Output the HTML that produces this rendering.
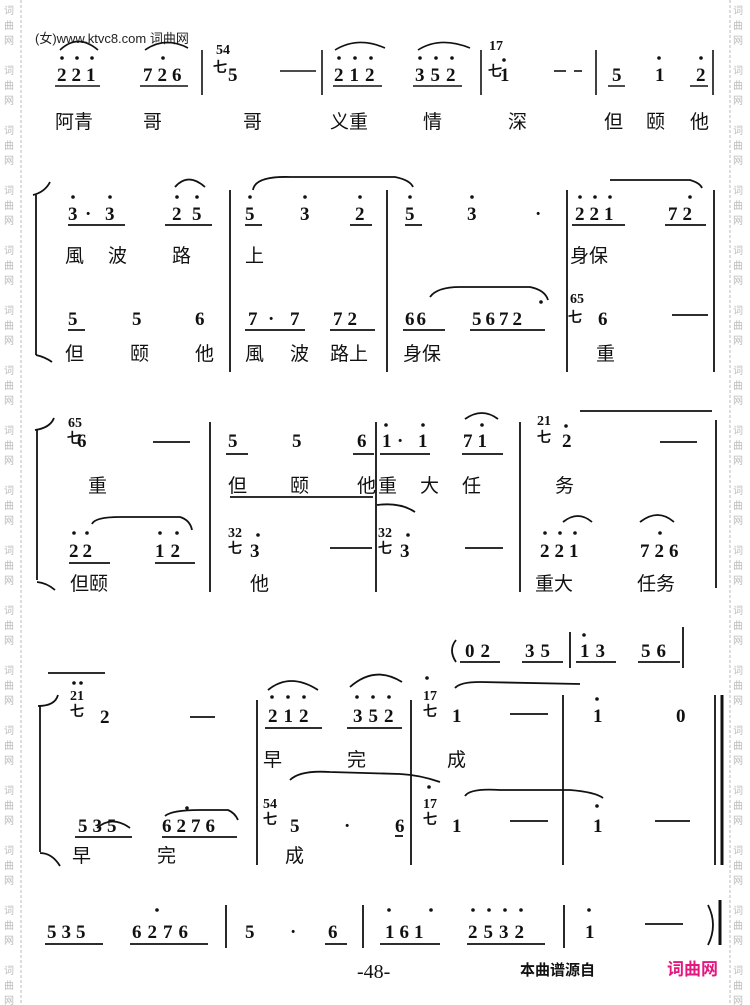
<!DOCTYPE html>
<html><head><meta charset="utf-8"><style>
body{margin:0;background:#fff;width:750px;height:1005px;overflow:hidden}
svg{display:block}
.n{font-family:"Liberation Serif",serif;font-weight:bold;font-size:19px;fill:#111}
.s{font-family:"Liberation Serif",serif;font-weight:bold;font-size:14px;fill:#111}
.l{font-family:"Liberation Sans","Noto Sans CJK SC",sans-serif;font-size:19px;fill:#111}
.w{font-family:"Noto Sans CJK SC",sans-serif;font-size:10px;fill:#bbb}
</style></head><body>
<svg width="750" height="1005" viewBox="0 0 750 1005" xmlns="http://www.w3.org/2000/svg">
<g stroke="#bbb" stroke-dasharray="3,2" stroke-width="1"><line x1="21" y1="0" x2="21" y2="1005"/><line x1="730" y1="0" x2="730" y2="1005"/></g>
<g class="w">
<text x="4" y="14">词</text><text x="4" y="29">曲</text><text x="4" y="44">网</text>
<text x="4" y="74">词</text><text x="4" y="89">曲</text><text x="4" y="104">网</text>
<text x="4" y="134">词</text><text x="4" y="149">曲</text><text x="4" y="164">网</text>
<text x="4" y="194">词</text><text x="4" y="209">曲</text><text x="4" y="224">网</text>
<text x="4" y="254">词</text><text x="4" y="269">曲</text><text x="4" y="284">网</text>
<text x="4" y="314">词</text><text x="4" y="329">曲</text><text x="4" y="344">网</text>
<text x="4" y="374">词</text><text x="4" y="389">曲</text><text x="4" y="404">网</text>
<text x="4" y="434">词</text><text x="4" y="449">曲</text><text x="4" y="464">网</text>
<text x="4" y="494">词</text><text x="4" y="509">曲</text><text x="4" y="524">网</text>
<text x="4" y="554">词</text><text x="4" y="569">曲</text><text x="4" y="584">网</text>
<text x="4" y="614">词</text><text x="4" y="629">曲</text><text x="4" y="644">网</text>
<text x="4" y="674">词</text><text x="4" y="689">曲</text><text x="4" y="704">网</text>
<text x="4" y="734">词</text><text x="4" y="749">曲</text><text x="4" y="764">网</text>
<text x="4" y="794">词</text><text x="4" y="809">曲</text><text x="4" y="824">网</text>
<text x="4" y="854">词</text><text x="4" y="869">曲</text><text x="4" y="884">网</text>
<text x="4" y="914">词</text><text x="4" y="929">曲</text><text x="4" y="944">网</text>
<text x="4" y="974">词</text><text x="4" y="989">曲</text><text x="4" y="1004">网</text>
</g>
<g class="w" transform="translate(733,0)">
<text x="0" y="14">词</text><text x="0" y="29">曲</text><text x="0" y="44">网</text>
<text x="0" y="74">词</text><text x="0" y="89">曲</text><text x="0" y="104">网</text>
<text x="0" y="134">词</text><text x="0" y="149">曲</text><text x="0" y="164">网</text>
<text x="0" y="194">词</text><text x="0" y="209">曲</text><text x="0" y="224">网</text>
<text x="0" y="254">词</text><text x="0" y="269">曲</text><text x="0" y="284">网</text>
<text x="0" y="314">词</text><text x="0" y="329">曲</text><text x="0" y="344">网</text>
<text x="0" y="374">词</text><text x="0" y="389">曲</text><text x="0" y="404">网</text>
<text x="0" y="434">词</text><text x="0" y="449">曲</text><text x="0" y="464">网</text>
<text x="0" y="494">词</text><text x="0" y="509">曲</text><text x="0" y="524">网</text>
<text x="0" y="554">词</text><text x="0" y="569">曲</text><text x="0" y="584">网</text>
<text x="0" y="614">词</text><text x="0" y="629">曲</text><text x="0" y="644">网</text>
<text x="0" y="674">词</text><text x="0" y="689">曲</text><text x="0" y="704">网</text>
<text x="0" y="734">词</text><text x="0" y="749">曲</text><text x="0" y="764">网</text>
<text x="0" y="794">词</text><text x="0" y="809">曲</text><text x="0" y="824">网</text>
<text x="0" y="854">词</text><text x="0" y="869">曲</text><text x="0" y="884">网</text>
<text x="0" y="914">词</text><text x="0" y="929">曲</text><text x="0" y="944">网</text>
<text x="0" y="974">词</text><text x="0" y="989">曲</text><text x="0" y="1004">网</text>
</g>

<!-- Row 1 -->
<text x="35" y="43" style="font-family:'Liberation Sans','Noto Sans CJK SC',sans-serif;font-size:13px;fill:#222">(女)www.ktvc8.com 词曲网</text>
<g class="n">
<text x="57" y="81" letter-spacing="5">221</text><text x="143" y="81" letter-spacing="5">726</text>
<text x="228" y="81">5</text>
<text x="334" y="81" letter-spacing="6">212</text><text x="415" y="81" letter-spacing="6">352</text>
<text x="500" y="81">1</text>
<text x="612" y="81">5</text><text x="655" y="81">1</text><text x="696" y="81">2</text>
</g>
<g class="s"><text x="216" y="54">54</text><text x="489" y="50">17</text></g>
<text x="213" y="72" class="s">七</text><text x="488" y="76" class="s">七</text>
<g fill="#111">
<circle cx="62" cy="58" r="1.8"/><circle cx="77" cy="58" r="1.8"/><circle cx="92" cy="58" r="1.8"/><circle cx="163" cy="58" r="1.8"/>
<circle cx="339" cy="58" r="1.8"/><circle cx="355" cy="58" r="1.8"/><circle cx="371" cy="58" r="1.8"/>
<circle cx="420" cy="58" r="1.8"/><circle cx="436" cy="58" r="1.8"/><circle cx="452" cy="58" r="1.8"/>
<circle cx="504" cy="60" r="1.8"/><circle cx="659" cy="58" r="1.8"/><circle cx="701" cy="58" r="1.8"/>
</g>
<g stroke="#111" stroke-width="1.6" fill="none">
<line x1="280" y1="71" x2="316" y2="71"/><line x1="554" y1="71" x2="566" y2="71"/><line x1="574" y1="71" x2="582" y2="71"/>
<line x1="55" y1="86" x2="100" y2="86"/><line x1="140" y1="86" x2="188" y2="86"/>
<line x1="333" y1="86" x2="382" y2="86"/><line x1="413" y1="86" x2="462" y2="86"/>
<line x1="608" y1="86" x2="625" y2="86"/><line x1="690" y1="86" x2="708" y2="86"/>
<line x1="202" y1="50" x2="202" y2="95"/><line x1="322" y1="50" x2="322" y2="95"/><line x1="481" y1="50" x2="481" y2="95"/><line x1="596" y1="50" x2="596" y2="95"/><line x1="713" y1="50" x2="713" y2="95"/>
<path d="M60 50 Q78 33 98 50"/><path d="M145 50 Q165 36 188 48"/><path d="M335 50 Q358 36 385 48"/><path d="M418 50 Q440 36 470 48"/>
</g>
<g class="l"><text x="55" y="128">阿青</text><text x="143" y="128">哥</text><text x="243" y="128">哥</text><text x="330" y="128">义重</text><text x="423" y="128">情</text><text x="508" y="128">深</text><text x="604" y="128">但</text><text x="646" y="128">颐</text><text x="690" y="128">他</text></g>

<!-- Row 2 -->
<g stroke="#111" stroke-width="1.8" fill="none">
<line x1="36" y1="195" x2="36" y2="355"/><path d="M33 195 Q45 192 50 182"/><path d="M36 355 Q45 357 52 362"/>
<line x1="230" y1="190" x2="230" y2="372"/><line x1="387" y1="190" x2="387" y2="372"/><line x1="567" y1="190" x2="567" y2="372"/><line x1="714" y1="190" x2="714" y2="372"/>
<line x1="68" y1="225" x2="125" y2="225"/><line x1="165" y1="225" x2="212" y2="225"/><line x1="245" y1="225" x2="262" y2="225"/><line x1="350" y1="225" x2="372" y2="225"/><line x1="405" y1="225" x2="422" y2="225"/>
<line x1="572" y1="225" x2="625" y2="225"/><line x1="665" y1="225" x2="706" y2="225"/>
<line x1="68" y1="330" x2="85" y2="330"/><line x1="245" y1="330" x2="305" y2="330"/><line x1="330" y1="330" x2="375" y2="330"/><line x1="403" y1="330" x2="445" y2="330"/><line x1="470" y1="330" x2="545" y2="330"/>
<line x1="672" y1="315" x2="708" y2="315"/>
<path d="M175 187 Q188 172 205 187"/><path d="M253 190 Q255 176 290 177 L395 177 Q410 180 413 187"/><path d="M610 180 L690 180 Q700 183 702 188"/><path d="M430 297 Q437 287 460 287 L530 287 Q545 290 548 300"/>
</g>
<g fill="#111">
<circle cx="73" cy="197" r="1.8"/><circle cx="110" cy="197" r="1.8"/><circle cx="177" cy="197" r="1.8"/><circle cx="197" cy="197" r="1.8"/>
<circle cx="250" cy="197" r="1.8"/><circle cx="305" cy="197" r="1.8"/><circle cx="360" cy="197" r="1.8"/><circle cx="410" cy="197" r="1.8"/><circle cx="472" cy="197" r="1.8"/>
<circle cx="580" cy="197" r="1.8"/><circle cx="595" cy="197" r="1.8"/><circle cx="610" cy="197" r="1.8"/><circle cx="690" cy="197" r="1.8"/>
<circle cx="541" cy="302" r="1.8"/>
</g>
<g class="n">
<text x="68" y="220">3</text><text x="85" y="220">·</text><text x="105" y="220">3</text><text x="172" y="220">2</text><text x="192" y="220">5</text>
<text x="245" y="220">5</text><text x="300" y="220">3</text><text x="355" y="220">2</text>
<text x="405" y="220">5</text><text x="467" y="220">3</text><text x="535" y="220">·</text>
<text x="575" y="220" letter-spacing="5">221</text><text x="668" y="220" letter-spacing="5">72</text>
<text x="68" y="325">5</text><text x="132" y="325">5</text><text x="195" y="325">6</text>
<text x="248" y="325">7</text><text x="268" y="325">·</text><text x="290" y="325">7</text><text x="333" y="325" letter-spacing="5">72</text>
<text x="405" y="325" letter-spacing="2">66</text><text x="472" y="325" letter-spacing="4">5672</text>
<text x="598" y="325">6</text>
</g>
<text x="570" y="303" class="s">65</text><text x="568" y="322" class="s">七</text>
<g class="l"><text x="65" y="262">風</text><text x="108" y="262">波</text><text x="172" y="262">路</text><text x="245" y="262">上</text><text x="570" y="262">身保</text>
<text x="65" y="360">但</text><text x="130" y="360">颐</text><text x="195" y="360">他</text><text x="245" y="360">風</text><text x="290" y="360">波</text><text x="330" y="360">路上</text><text x="403" y="360">身保</text><text x="596" y="360">重</text></g>

<!-- Row 3 -->
<g stroke="#111" stroke-width="1.8" fill="none">
<line x1="37" y1="430" x2="37" y2="580"/><path d="M35 430 Q50 428 54 418"/><path d="M37 582 Q47 583 55 590"/>
<line x1="210" y1="422" x2="210" y2="592"/><line x1="376" y1="422" x2="376" y2="592"/><line x1="520" y1="422" x2="520" y2="592"/><line x1="716" y1="420" x2="716" y2="588"/>
<line x1="153" y1="442" x2="190" y2="442"/><line x1="660" y1="442" x2="697" y2="442"/>
<line x1="226" y1="454" x2="248" y2="454"/><line x1="353" y1="454" x2="374" y2="454"/><line x1="380" y1="454" x2="430" y2="454"/><line x1="462" y1="454" x2="503" y2="454"/>
<line x1="69" y1="563" x2="110" y2="563"/><line x1="155" y1="563" x2="195" y2="563"/><line x1="330" y1="548" x2="372" y2="548"/><line x1="465" y1="548" x2="503" y2="548"/>
<line x1="230" y1="497" x2="373" y2="497"/>
<line x1="580" y1="411" x2="712" y2="411"/>
<path d="M465 419 Q482 407 498 419"/><path d="M92 524 Q95 517 120 517 L180 517 Q190 520 192 530"/><path d="M377 505 Q400 502 415 512"/><path d="M563 522 Q578 510 592 522"/><path d="M640 522 Q658 508 674 522"/>
</g>
<g fill="#111">
<circle cx="386" cy="425" r="1.8"/><circle cx="423" cy="425" r="1.8"/><circle cx="482" cy="425" r="1.8"/><circle cx="566" cy="426" r="1.8"/>
<circle cx="74" cy="533" r="1.8"/><circle cx="87" cy="533" r="1.8"/><circle cx="160" cy="533" r="1.8"/><circle cx="177" cy="533" r="1.8"/>
<circle cx="545" cy="533" r="1.8"/><circle cx="560" cy="533" r="1.8"/><circle cx="575" cy="533" r="1.8"/><circle cx="660" cy="533" r="1.8"/>
<circle cx="258" cy="535" r="1.8"/><circle cx="408" cy="535" r="1.8"/>
</g>
<g class="n">
<text x="77" y="447">6</text>
<text x="228" y="447">5</text><text x="292" y="447">5</text><text x="357" y="447">6</text>
<text x="382" y="447">1</text><text x="397" y="447">·</text><text x="418" y="447">1</text><text x="463" y="447" letter-spacing="5">71</text>
<text x="562" y="447">2</text>
<text x="69" y="557" letter-spacing="4">22</text><text x="155" y="557" letter-spacing="6">12</text>
<text x="250" y="557">3</text><text x="400" y="557">3</text>
<text x="540" y="557" letter-spacing="5">221</text><text x="640" y="557" letter-spacing="5">726</text>
</g>
<g class="s"><text x="68" y="427">65</text><text x="67" y="443">七</text><text x="537" y="425">21</text><text x="537" y="442">七</text>
<text x="228" y="537">32</text><text x="228" y="553">七</text><text x="378" y="537">32</text><text x="378" y="553">七</text></g>
<g class="l"><text x="88" y="492">重</text><text x="228" y="492">但</text><text x="290" y="492">颐</text><text x="357" y="492">他</text><text x="378" y="492">重</text><text x="420" y="492">大</text><text x="462" y="492">任</text><text x="555" y="492">务</text>
<text x="70" y="590">但颐</text><text x="250" y="590">他</text><text x="535" y="590">重大</text><text x="637" y="590">任务</text></g>

<!-- Row 4 -->
<g stroke="#111" stroke-width="1.8" fill="none">
<path d="M456 640 Q448 650 456 662"/>
<line x1="570" y1="632" x2="570" y2="668"/><line x1="683" y1="627" x2="683" y2="668"/>
<line x1="460" y1="662" x2="500" y2="662"/><line x1="522" y1="662" x2="563" y2="662"/><line x1="576" y1="662" x2="616" y2="662"/><line x1="638" y1="662" x2="680" y2="662"/>
<line x1="40" y1="706" x2="40" y2="852"/><path d="M38 706 Q55 706 58 695"/><path d="M40 853 Q52 853 60 866"/>
<line x1="257" y1="700" x2="257" y2="865"/><line x1="411" y1="700" x2="411" y2="865"/><line x1="563" y1="695" x2="563" y2="865"/><line x1="715" y1="695" x2="715" y2="865"/><line x1="722" y1="695" x2="722" y2="865" stroke-width="3"/>
<line x1="48" y1="673" x2="105" y2="673"/>
<line x1="190" y1="717" x2="215" y2="717"/><line x1="510" y1="714" x2="548" y2="714"/>
<line x1="265" y1="728" x2="322" y2="728"/><line x1="347" y1="728" x2="402" y2="728"/>
<line x1="510" y1="821" x2="548" y2="821"/><line x1="655" y1="821" x2="690" y2="821"/><line x1="395" y1="836" x2="403" y2="836"/>
<line x1="75" y1="837" x2="132" y2="837"/><line x1="162" y1="837" x2="237" y2="837"/>
<path d="M268 690 Q290 672 318 690"/><path d="M350 687 Q375 665 402 682"/><path d="M455 688 Q460 682 480 682 L580 684"/><path d="M290 780 Q300 770 330 772 L400 774 Q420 775 440 782"/><path d="M465 796 Q470 788 500 790 L570 790 Q595 792 603 798"/><path d="M97 828 Q112 815 130 828"/><path d="M165 816 Q172 810 200 810 L228 810 Q235 813 238 820"/>
</g>
<g fill="#111">
<circle cx="584" cy="635" r="1.8"/>
<circle cx="74" cy="683" r="1.8"/><circle cx="81" cy="683" r="1.8"/>
<circle cx="272" cy="697" r="1.8"/><circle cx="288" cy="697" r="1.8"/><circle cx="304" cy="697" r="1.8"/>
<circle cx="357" cy="697" r="1.8"/><circle cx="373" cy="697" r="1.8"/><circle cx="389" cy="697" r="1.8"/>
<circle cx="427" cy="678" r="1.8"/><circle cx="597" cy="699" r="1.8"/>
<circle cx="429" cy="787" r="1.8"/><circle cx="597" cy="806" r="1.8"/><circle cx="187" cy="808" r="1.8"/>
</g>
<g class="n" >
<text x="465" y="657" letter-spacing="6">02</text><text x="525" y="657" letter-spacing="6">35</text><text x="580" y="657" letter-spacing="6">13</text><text x="641" y="657" letter-spacing="6">56</text>
<text x="100" y="723">2</text>
<text x="268" y="722" letter-spacing="6">212</text><text x="353" y="722" letter-spacing="6">352</text>
<text x="452" y="722">1</text><text x="593" y="722">1</text><text x="676" y="722">0</text>
<text x="78" y="832" letter-spacing="5">535</text><text x="162" y="832" letter-spacing="5">6276</text>
<text x="290" y="832">5</text><text x="344" y="832">·</text><text x="395" y="832">6</text>
<text x="452" y="832">1</text><text x="593" y="832">1</text>
</g>
<g class="s"><text x="70" y="700">21</text><text x="70" y="716">七</text><text x="423" y="700">17</text><text x="423" y="716">七</text>
<text x="263" y="808">54</text><text x="263" y="824">七</text><text x="423" y="808">17</text><text x="423" y="824">七</text></g>
<g class="l"><text x="263" y="766">早</text><text x="347" y="766">完</text><text x="447" y="766">成</text>
<text x="72" y="862">早</text><text x="157" y="862">完</text><text x="285" y="862">成</text></g>

<!-- Row 5 -->
<g fill="#111">
<circle cx="157" cy="910" r="1.8"/><circle cx="389" cy="910" r="1.8"/><circle cx="431" cy="910" r="1.8"/>
<circle cx="473" cy="910" r="1.8"/><circle cx="489" cy="910" r="1.8"/><circle cx="505" cy="910" r="1.8"/><circle cx="521" cy="910" r="1.8"/>
<circle cx="589" cy="910" r="1.8"/>
</g>
<g class="n"><text x="47" y="938" letter-spacing="5">535</text><text x="132" y="938" letter-spacing="6">6276</text>
<text x="245" y="938">5</text><text x="290" y="938">·</text><text x="328" y="938">6</text>
<text x="385" y="938" letter-spacing="5">161</text><text x="468" y="938" letter-spacing="6">2532</text>
<text x="585" y="938">1</text></g>
<g stroke="#111" stroke-width="1.8" fill="none">
<line x1="226" y1="905" x2="226" y2="948"/><line x1="363" y1="905" x2="363" y2="948"/><line x1="564" y1="905" x2="564" y2="948"/><line x1="720" y1="900" x2="720" y2="945" stroke-width="3"/>
<path d="M708 905 Q718 925 708 945"/>
<line x1="645" y1="924" x2="683" y2="924"/>
<line x1="45" y1="944" x2="103" y2="944"/><line x1="130" y1="944" x2="208" y2="944"/><line x1="325" y1="944" x2="347" y2="944"/><line x1="380" y1="944" x2="440" y2="944"/><line x1="467" y1="944" x2="545" y2="944"/>
</g>
<text x="357" y="978" style="font-family:'Liberation Serif',serif;font-size:20px;fill:#111">-48-</text>
<text x="520" y="975" style="font-family:'Noto Sans CJK SC',sans-serif;font-weight:bold;font-size:15px;fill:#111">本曲谱源自</text>
<text x="667" y="975" style="font-family:'Noto Sans CJK SC',sans-serif;font-weight:bold;font-size:17px;fill:#e5177e">词曲网</text>
</svg>
</body></html>
